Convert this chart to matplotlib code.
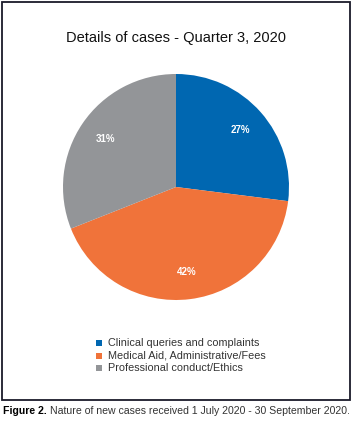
import matplotlib.pyplot as plt
from matplotlib.patches import Rectangle

labels = ['Clinical queries and complaints', 'Medical Aid, Administrative/Fees',
          'Professional conduct/Ethics']
values = [27, 42, 31]
colors = ['#0067b1', '#f0733a', '#939598']

W, H = 353, 423
fig = plt.figure(figsize=(W / 100, H / 100), dpi=100)
plt.rcParams['font.family'] = ['Liberation Sans', 'DejaVu Sans']

# border box
fig.patches.append(Rectangle((2 / W, 1 - 400 / H), 348 / W, 398 / H,
                             transform=fig.transFigure, fill=False,
                             edgecolor='#1a1a2a', linewidth=1.3))

# pie: center (176, 187), radius 113 px
cx, cy, r = 176, 187, 113
ax = fig.add_axes([(cx - r) / W, 1 - (cy + r) / H, 2 * r / W, 2 * r / H])
wedges, texts, autotexts = ax.pie(values, colors=colors, startangle=90, counterclock=False,
                                  autopct='%d%%', pctdistance=0.76, radius=1.0,
                                  wedgeprops=dict(linewidth=0),
                                  textprops=dict(color='white', fontsize=7, fontweight='bold'))
ax.set_xlim(-1, 1)
ax.set_ylim(-1, 1)
ax.set_aspect('equal')

fig.text(cx / W, 1 - 38 / H, 'Details of cases - Quarter 3, 2020',
         ha='center', va='center', fontsize=10.5, color='#111111')

# legend
for i, (lab, col) in enumerate(zip(labels, colors)):
    y = 1 - (343 + i * 12.5) / H
    fig.patches.append(Rectangle((96 / W, y - 3 / H), 6 / W, 6 / H,
                                 transform=fig.transFigure, facecolor=col, edgecolor='none'))
    fig.text(108 / W, y, lab, ha='left', va='center', fontsize=7.8, color='#333333')

# caption
cap = fig.text(3 / W, 1 - 411 / H, 'Figure 2.', ha='left', va='center',
               fontsize=7.6, fontweight='bold')
renderer = fig.canvas.get_renderer()
bb = cap.get_window_extent(renderer)
fig.text((bb.x1 + 3) / W, 1 - 411 / H,
         'Nature of new cases received 1 July 2020 - 30 September 2020.',
         ha='left', va='center', fontsize=7.6, color='#333333')

fig.savefig('out.png', dpi=100)
